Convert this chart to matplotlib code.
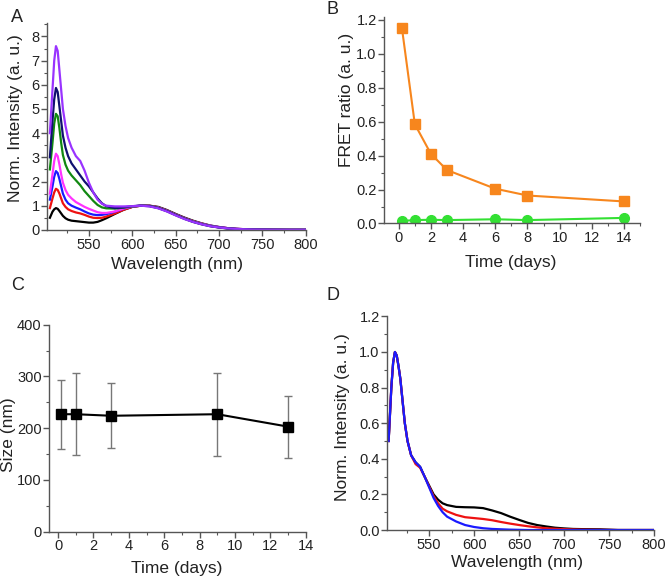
import numpy as np
import matplotlib
matplotlib.use("Agg")
from matplotlib import pyplot as plt
from matplotlib.ticker import MultipleLocator, FormatStrFormatter

plt.rcParams["font.family"] = ["Liberation Sans", "DejaVu Sans"]
plt.rcParams["axes.linewidth"] = 1.0

# ----------------------------------  data  ----------------------------------

wl = [505, 508, 510, 512, 514, 516, 518, 520, 523, 526, 530, 535, 540, 545, 550,
      555, 560, 565, 570, 580, 590, 600, 610, 620, 630, 640, 650, 660, 670, 680,
      690, 700, 710, 720, 740, 760, 780, 800]

# panel A: normalized spectra (to acceptor peak)
a_black = [0.5, 0.75, 0.85, 0.9, 0.87, 0.78, 0.68, 0.58, 0.48, 0.42, 0.38, 0.36, 0.34, 0.32, 0.3,
           0.3, 0.33, 0.4, 0.48, 0.66, 0.83, 0.95, 1.0, 1.0, 0.95, 0.82, 0.66, 0.51, 0.38, 0.27,
           0.18, 0.12, 0.07, 0.04, 0.015, 0.005, 0.0, 0.0]
a_red = [0.9, 1.3, 1.55, 1.7, 1.65, 1.5, 1.3, 1.1, 0.95, 0.85, 0.78, 0.72, 0.68, 0.62, 0.55,
         0.5, 0.49, 0.5, 0.55, 0.68, 0.83, 0.95, 1.0, 1.0, 0.93, 0.8, 0.64, 0.49, 0.36, 0.26,
         0.17, 0.11, 0.07, 0.04, 0.015, 0.005, 0.0, 0.0]
a_blue = [1.25, 1.8, 2.2, 2.43, 2.35, 2.1, 1.8, 1.5, 1.25, 1.1, 1.0, 0.92, 0.85, 0.76, 0.68,
          0.63, 0.61, 0.62, 0.65, 0.75, 0.88, 0.97, 1.0, 0.99, 0.92, 0.79, 0.63, 0.48, 0.35, 0.25,
          0.17, 0.11, 0.07, 0.04, 0.015, 0.005, 0.0, 0.0]
a_magenta = [1.5, 2.3, 2.85, 3.15, 3.05, 2.7, 2.3, 1.95, 1.65, 1.45, 1.3, 1.15, 1.05, 0.95, 0.87,
             0.8, 0.73, 0.7, 0.7, 0.76, 0.88, 0.97, 1.0, 0.99, 0.92, 0.79, 0.63, 0.48, 0.35, 0.25,
             0.17, 0.11, 0.07, 0.04, 0.015, 0.005, 0.0, 0.0]
a_green = [2.5, 3.6, 4.4, 4.8, 4.7, 4.2, 3.6, 3.1, 2.7, 2.45, 2.25, 2.05, 1.85, 1.6, 1.4,
           1.2, 1.03, 0.93, 0.89, 0.88, 0.92, 0.97, 1.0, 0.99, 0.91, 0.78, 0.62, 0.47, 0.34, 0.24,
           0.16, 0.1, 0.06, 0.035, 0.012, 0.004, 0.0, 0.0]
a_navy = [3.0, 4.5, 5.4, 5.87, 5.7, 5.1, 4.5, 3.9, 3.4, 3.05, 2.75, 2.5, 2.25, 2.0, 1.8,
          1.55, 1.3, 1.1, 0.98, 0.9, 0.93, 0.98, 1.0, 0.98, 0.9, 0.77, 0.61, 0.46, 0.33, 0.23,
          0.15, 0.1, 0.06, 0.035, 0.012, 0.004, 0.0, 0.0]
a_purple = [4.0, 5.8, 7.0, 7.6, 7.4, 6.6, 5.8, 5.0, 4.3, 3.8, 3.4, 3.05, 2.85, 2.45, 1.95,
            1.55, 1.25, 1.08, 1.0, 0.97, 0.97, 0.98, 1.0, 0.97, 0.89, 0.76, 0.6, 0.45, 0.33, 0.23,
            0.15, 0.1, 0.06, 0.035, 0.012, 0.004, 0.0, 0.0]

# panel B: FRET ratio vs time
days_b = [0.2, 1, 2, 3, 6, 8, 14]
fret_orange = [1.15, 0.585, 0.41, 0.315, 0.205, 0.165, 0.13]
fret_green = [0.015, 0.02, 0.022, 0.02, 0.025, 0.02, 0.033]

# panel C: particle size vs time
days_c = [0.15, 1, 3, 9, 13]
size_nm = [227, 227, 224, 227, 203]
size_err = [67, 79, 63, 80, 60]

# panel D: normalized spectra (to donor peak)
d_black = [0.5, 0.8, 0.94, 1.0, 0.98, 0.92, 0.85, 0.75, 0.6, 0.5, 0.42, 0.38, 0.355, 0.3, 0.25,
           0.2, 0.17, 0.15, 0.14, 0.13, 0.128, 0.127, 0.123, 0.11, 0.095, 0.075, 0.057, 0.04, 0.028, 0.02,
           0.013, 0.009, 0.006, 0.005, 0.004, 0.0, 0.0, 0.0]
d_red = [0.5, 0.8, 0.94, 1.0, 0.98, 0.92, 0.85, 0.75, 0.6, 0.5, 0.42, 0.37, 0.35, 0.3, 0.245,
         0.19, 0.15, 0.12, 0.105, 0.085, 0.072, 0.067, 0.062, 0.055, 0.045, 0.036, 0.028, 0.021, 0.015, 0.01,
         0.007, 0.005, 0.003, 0.002, 0.001, 0.0, 0.0, 0.0]
d_blue = [0.5, 0.8, 0.94, 1.0, 0.98, 0.92, 0.85, 0.75, 0.6, 0.5, 0.42, 0.38, 0.355, 0.3, 0.24,
          0.18, 0.135, 0.1, 0.075, 0.048, 0.028, 0.017, 0.01, 0.006, 0.004, 0.002, 0.001, 0.0, 0.0, 0.0,
          0.0, 0.0, 0.0, 0.0, 0.0, 0.0, 0.0, 0.0]

# ---------------------------------  styling  ---------------------------------

W, H = 666, 579
TXT = "#222222"
TICK_FS = 10.5
LAB_FS = 12.5


def style(ax, xmaj, xmin, ymaj, ymin):
    for s in ("top", "right"):
        ax.spines[s].set_visible(False)
    for s in ("left", "bottom"):
        ax.spines[s].set_color("#555555")
    ax.xaxis.set_major_locator(MultipleLocator(xmaj))
    ax.xaxis.set_minor_locator(MultipleLocator(xmin))
    ax.yaxis.set_major_locator(MultipleLocator(ymaj))
    ax.yaxis.set_minor_locator(MultipleLocator(ymin))
    ax.tick_params(which="major", direction="out", length=4, width=1,
                   color="#555555", labelsize=TICK_FS, labelcolor=TXT, pad=1.5)
    ax.tick_params(which="minor", direction="out", length=2.5, width=0.8, color="#555555")


def labels(ax, xl, xpos, yl, ypos):
    # positions are label centres in pixels from the top-left corner
    ax.set_xlabel(xl, fontsize=LAB_FS, color=TXT, va="center", ha="center")
    ax.xaxis.set_label_coords(xpos[0] / W, 1 - xpos[1] / H, transform=fig.transFigure)
    ax.set_ylabel(yl, fontsize=LAB_FS, color=TXT, va="center", ha="center")
    ax.yaxis.set_label_coords(ypos[0] / W, 1 - ypos[1] / H, transform=fig.transFigure)


fig = plt.figure(figsize=(W / 100, H / 100), dpi=100)

# ---------------------------------  panel A  ---------------------------------
axA = fig.add_axes([0.071, 0.603, 0.388, 0.357])
for ys, c in [(a_black, "black"), (a_red, "#ee1111"), (a_blue, "#1a1aff"),
              (a_magenta, "#ff33ff"), (a_green, "#118811"), (a_navy, "#101070"),
              (a_purple, "#9933ff")]:
    axA.plot(wl, ys, "-", c=c, lw=1.6)
axA.set_xlim(502, 800)
axA.set_ylim(0, 8.55)
style(axA, 50, 25, 1, 0.5)
axA.set_xticks([550, 600, 650, 700, 750, 800])
labels(axA, "Wavelength (nm)", (177, 265), "Norm. Intensity (a. u.)", (16, 118))

# ---------------------------------  panel B  ---------------------------------
axB = fig.add_axes([0.577, 0.614, 0.384, 0.356])
axB.plot(days_b, fret_orange, "-s", c="#f7861d", lw=1.5, ms=7)
axB.plot(days_b, fret_green, "-o", c="#33e033", lw=1.5, ms=7)
axB.set_xlim(-0.9, 15)
axB.set_ylim(0, 1.215)
style(axB, 2, 1, 0.2, 0.1)
axB.set_xticks(range(0, 15, 2))
axB.yaxis.set_major_formatter(FormatStrFormatter("%.1f"))
labels(axB, "Time (days)", (511, 262), "FRET ratio (a. u.)", (347, 100))

# ---------------------------------  panel C  ---------------------------------
axC = fig.add_axes([0.074, 0.082, 0.385, 0.357])
axC.errorbar(days_c, size_nm, yerr=size_err, fmt="-s", c="black", lw=1.5, ms=7,
             ecolor="#777777", elinewidth=1, capsize=3, capthick=1)
axC.set_xlim(-0.5, 14)
axC.set_ylim(0, 400)
style(axC, 2, 1, 100, 50)
labels(axC, "Time (days)", (177, 569), "Size (nm)", (9, 435))

# ---------------------------------  panel D  ---------------------------------
axD = fig.add_axes([0.5815, 0.0846, 0.4005, 0.369])
for ys, c in [(d_black, "black"), (d_red, "#ee1111"), (d_blue, "#1a1aff")]:
    axD.plot(wl, ys, "-", c=c, lw=1.6)
axD.set_xlim(503.5, 800)
axD.set_ylim(0, 1.2)
style(axD, 50, 25, 0.2, 0.1)
axD.set_xticks([550, 600, 650, 700, 750, 800])
axD.yaxis.set_major_formatter(FormatStrFormatter("%.1f"))
labels(axD, "Wavelength (nm)", (517, 563), "Norm. Intensity (a. u.)", (343, 417))

# panel letters
for lab, x, y in [("A", 17, 18), ("B", 333, 9), ("C", 18, 285), ("D", 333, 296)]:
    fig.text(x / W, 1 - y / H, lab, fontsize=13, color=TXT, ha="center", va="center")

fig.savefig("out.png", dpi=100)
